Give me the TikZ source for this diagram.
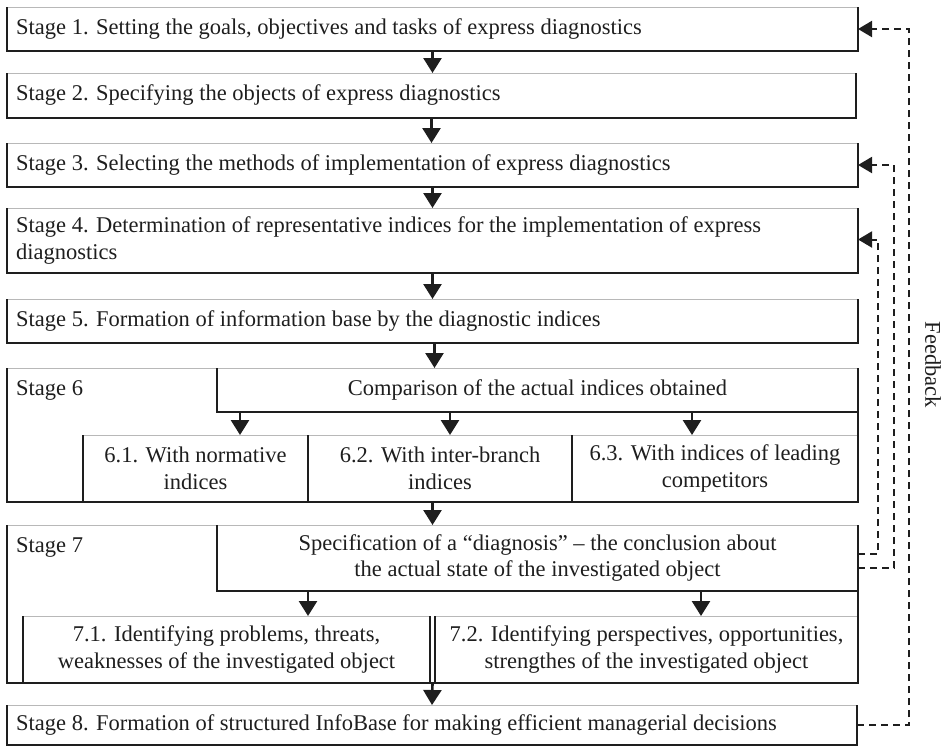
\documentclass[tikz,border=0pt]{standalone}
\usepackage{fontspec}
\setmainfont{Liberation Serif}
\usetikzlibrary{arrows.meta,fit}
\definecolor{ink}{HTML}{1E1E1E}
\definecolor{topline}{HTML}{B8B8B8}
\tikzset{
  box/.style={inner sep=0pt, outer sep=0pt},
  txt/.style={inner sep=0pt, font=\fontsize{22.5}{26.5}\selectfont, text=ink},
  lbl/.style={txt, anchor=west, align=left},
  ctr/.style={txt, align=center},
  flow/.style={line width=2.6pt, draw=ink, -{Triangle[width=18pt,length=15pt]}},
  fb/.style={line width=2pt, draw=ink, dash pattern=on 7pt off 5pt, -{Triangle[width=16pt,length=14pt]}},
  side/.style={line width=2pt, draw=ink},
  bot/.style={line width=1.4pt, draw=ink},
  topl/.style={line width=1pt, draw=topline}
}
\newcommand{\frameit}[1]{%
  \draw[topl] (#1.north west) -- (#1.north east);
  \draw[side] (#1.north west) -- (#1.south west);
  \draw[side] (#1.north east) -- (#1.south east);
  \draw[bot] ([xshift=-1pt]#1.south west) -- ([xshift=1pt]#1.south east);}
\begin{document}
\begin{tikzpicture}[x=1pt,y=-1pt]
\useasboundingbox (0,0) rectangle (947,748);
% boxes
\node[box, fit={(7,7) (858,51)}] (s1) {};
\node[box, fit={(7,73) (856,118)}] (s2) {};
\node[box, fit={(7,143) (858,187)}] (s3) {};
\node[box, fit={(7,208) (858,273)}] (s4) {};
\node[box, fit={(7,299) (858,343)}] (s5) {};
\node[box, fit={(7,368) (858,502)}] (s6) {};
\node[box, fit={(217,368) (858,412)}] (cmp) {};
\node[box, fit={(83,435) (308,502)}] (b61) {};
\node[box, fit={(308,435) (572,502)}] (b62) {};
\node[box, fit={(572,435) (858,502)}] (b63) {};
\node[box, fit={(7,525) (858,683)}] (s7) {};
\node[box, fit={(217,525) (858,591)}] (spec) {};
\node[box, fit={(23,616) (430,683)}] (b71) {};
\node[box, fit={(435,616) (858,683)}] (b72) {};
\node[box, fit={(7,705) (857,745)}] (s8) {};
\foreach \b in {s1,s2,s3,s4,s5,s6,cmp,b61,b62,b63,s7,spec,b71,b72,s8}{\frameit{\b}}
% texts
\node[lbl] (t1) at ([xshift=9pt]s1.west) {Stage 1. Setting the goals, objectives and tasks of express diagnostics};
\node[lbl] (t2) at ([xshift=9pt]s2.west) {Stage 2. Specifying the objects of express diagnostics};
\node[lbl] (t3) at ([xshift=9pt]s3.west) {Stage 3. Selecting the methods of implementation of express diagnostics};
\node[lbl] (t4) at ([xshift=9pt]s4.west) {Stage 4. Determination of representative indices for the implementation of express\\diagnostics};
\node[lbl] (t5) at ([xshift=9pt]s5.west) {Stage 5. Formation of information base by the diagnostic indices};
\node[txt, anchor=north west] (t6) at ([shift={(9pt,-12pt)}]s6.north west) {Stage 6};
\node[ctr] (tc) at (cmp.center) {Comparison of the actual indices obtained};
\node[ctr] (t61) at (b61.center) {6.1. With normative\\indices};
\node[ctr] (t62) at (b62.center) {6.2. With inter-branch\\indices};
\node[ctr] (t63) at (b63.center) {6.3. With indices of leading\\competitors};
\node[txt, anchor=north west] (t7) at ([shift={(9pt,-12pt)}]s7.north west) {Stage 7};
\node[ctr] (ts) at (spec.center) {Specification of a “diagnosis” – the conclusion about\\the actual state of the investigated object};
\node[ctr] (t71) at (b71.center) {7.1. Identifying problems, threats,\\weaknesses of the investigated object};
\node[ctr] (t72) at (b72.center) {7.2. Identifying perspectives, opportunities,\\strengthes of the investigated object};
\node[lbl] (t8) at ([xshift=9pt]s8.west) {Stage 8. Formation of structured InfoBase for making efficient managerial decisions};
\node[txt, rotate=-90] (fbl) at (933,365) {Feedback};
% flow arrows
\draw[flow] (s1.south) -- (s2.north -| s1.south);
\draw[flow] (s2.south) -- (s3.north -| s2.south);
\draw[flow] (s3.south) -- (s4.north);
\draw[flow] (s4.south) -- (s5.north);
\draw[flow] ([xshift=2pt]s5.south) -- ([xshift=2pt]s5.south |- cmp.north);
\draw[flow] ([xshift=23pt]cmp.south west) -- ([xshift=157pt]b61.north west);
\draw[flow] ([xshift=233pt]cmp.south west) -- ([xshift=142pt]b62.north west);
\draw[flow] ([xshift=475pt]cmp.south west) -- ([xshift=120pt]b63.north west);
\draw[flow] (s6.south) -- (s7.north);
\draw[flow] ([xshift=91pt]spec.south west) -- ([xshift=285pt]b71.north west);
\draw[flow] ([xshift=484pt]spec.south west) -- ([xshift=266pt]b72.north west);
\draw[flow] (s7.south) -- (s8.north);
% feedback
\draw[fb] (s8.east) -- ++(52,0) |- (s1.east);
\draw[fb] ([yshift=-10pt]spec.east) -- ++(36,0) |- (s3.east);
\draw[fb] ([yshift=4pt]spec.east) -- ++(20,0) |- ([yshift=1pt]s4.east);
\end{tikzpicture}
\end{document}
